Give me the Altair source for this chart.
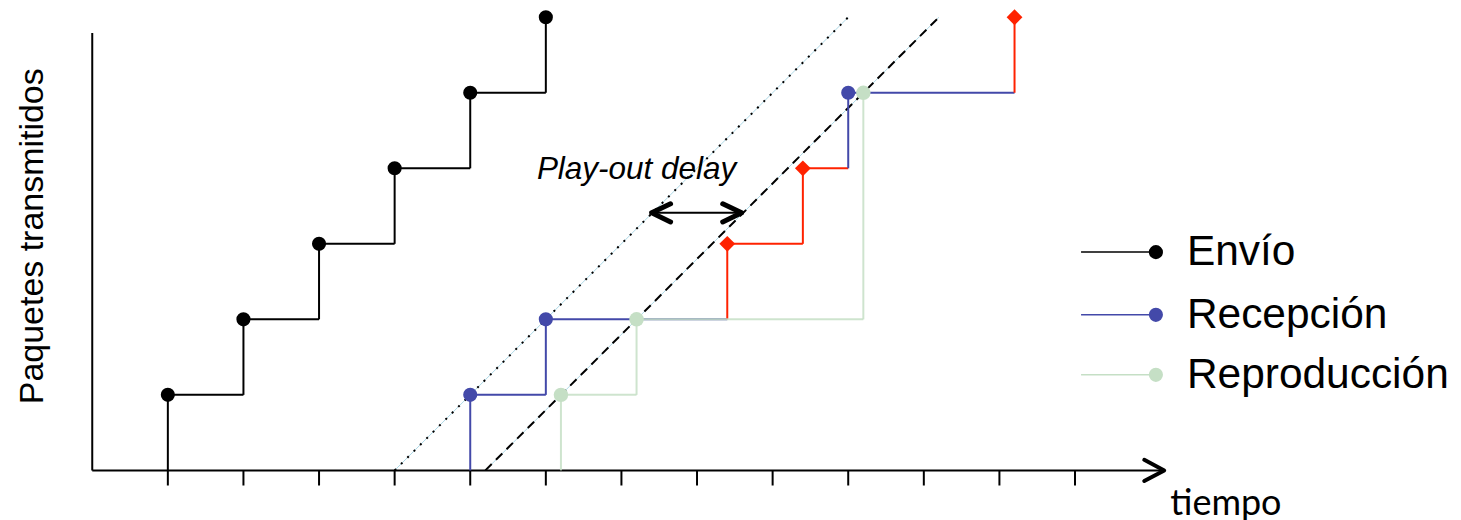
import altair as alt
import pandas as pd

# ---------------- data ----------------
levels = [1, 2, 3, 4, 5, 6]                     # packet number / height
send_t = [1, 2, 3, 4, 5, 6]                     # Envío times
recv_t = [5, 6, 8.4, 9.4, 10, 12.2]             # Recepción times
recv_late = [False, False, True, True, False, True]
play_t = [6.2, 7.2, 10.2]                       # Reproducción times
play_level = [1, 2, 5]
tick_pos = list(range(1, 14))
dotted_offset = 4.0                             # diagonal x = y + offset
dashed_offset = 5.2
diag_top = 6
y_axis_top = 5.79
x_axis_end = 14.18
arrow_y = 3.41
arrow_x = [7.40, 8.59]
legend_labels = ["Envío", "Recepción", "Reproducción"]
legend_y = [2.89, 2.06, 1.265]

BLACK = "#000000"
BLUE = "#4349a9"
GREEN = "#c5dfc5"
RED = "#ff2200"
LIGHTBLUE = "#add8e6"

X = alt.Scale(domain=[0, 18], nice=False, zero=False)
Y = alt.Scale(domain=[0, 6], nice=False, zero=False)


def steps(times, lv, colors):
    segs = []
    prev = 0
    for i, (t, l, c) in enumerate(zip(times, lv, colors)):
        segs.append(dict(x=t, x2=t, y=prev, y2=l, color=c))
        if i + 1 < len(times):
            segs.append(dict(x=t, x2=times[i + 1], y=l, y2=l, color=c))
        prev = l
    return pd.DataFrame(segs)


def rules(df, **mk):
    return alt.Chart(df).mark_rule(**mk).encode(
        x=alt.X("x:Q", scale=X, axis=None),
        x2="x2:Q",
        y=alt.Y("y:Q", scale=Y, axis=None),
        y2="y2:Q",
        color=alt.Color("color:N", scale=None),
    )


def points(df, shape, size):
    return alt.Chart(df).mark_point(shape=shape, filled=True, size=size, opacity=1).encode(
        x=alt.X("x:Q", scale=X, axis=None),
        y=alt.Y("y:Q", scale=Y, axis=None),
        color=alt.Color("color:N", scale=None),
    )


def chevrons(tips, direction, dx, dy, width):
    rows = []
    for k, (tx, ty) in enumerate(tips):
        d = direction[k]
        rows += [
            dict(g=k, o=0, x=tx - d * dx, y=ty + dy),
            dict(g=k, o=1, x=tx, y=ty),
            dict(g=k, o=2, x=tx - d * dx, y=ty - dy),
        ]
    return alt.Chart(pd.DataFrame(rows)).mark_line(
        color=BLACK, strokeWidth=width, strokeCap="round", strokeJoin="round"
    ).encode(
        x=alt.X("x:Q", scale=X, axis=None),
        y=alt.Y("y:Q", scale=Y, axis=None),
        detail="g:N",
        order="o:Q",
    )


recv_colors = [RED if late else BLUE for late in recv_late]

envio_df = steps(send_t, levels, [BLACK] * 6)
recv_df = steps(recv_t, levels, recv_colors)
play_df = steps(play_t, play_level, [GREEN] * 3)

diag_df = pd.DataFrame([
    dict(x=dotted_offset, x2=dotted_offset + diag_top, y=0, y2=diag_top, color=BLACK, kind="dot"),
    dict(x=dashed_offset, x2=dashed_offset + diag_top, y=0, y2=diag_top, color=BLACK, kind="dash"),
])
diag_light = diag_df.assign(color=LIGHTBLUE)

axes_df = pd.DataFrame([
    dict(x=0, x2=x_axis_end, y=0, y2=0, color=BLACK),
    dict(x=0, x2=0, y=0, y2=y_axis_top, color=BLACK),
])
ticks_df = pd.DataFrame([dict(x=t, x2=t, y=0, y2=-0.2, color=BLACK) for t in tick_pos])
arrow_df = pd.DataFrame([dict(x=arrow_x[0], x2=arrow_x[1], y=arrow_y, y2=arrow_y, color=BLACK)])

envio_pts = pd.DataFrame(dict(x=send_t, y=levels, color=[BLACK] * 6))
recv_ok = pd.DataFrame([dict(x=t, y=l, color=BLUE) for t, l, late in zip(recv_t, levels, recv_late) if not late])
recv_bad = pd.DataFrame([dict(x=t, y=l, color=RED) for t, l, late in zip(recv_t, levels, recv_late) if late])
play_pts = pd.DataFrame(dict(x=play_t, y=play_level, color=[GREEN] * 3))

leg_colors = [BLACK, BLUE, GREEN]
leg_lines = pd.DataFrame([dict(x=13.08, x2=14.07, y=yy, y2=yy, color=c) for yy, c in zip(legend_y, leg_colors)])
leg_pts = pd.DataFrame([dict(x=14.07, y=yy, color=c) for yy, c in zip(legend_y, leg_colors)])
leg_text = pd.DataFrame(dict(x=[14.48] * 3, y=legend_y, t=legend_labels))


def text(df, **mk):
    return alt.Chart(df).mark_text(**mk).encode(
        x=alt.X("x:Q", scale=X, axis=None),
        y=alt.Y("y:Q", scale=Y, axis=None),
        text="t:N",
    )


layers = [
    rules(diag_light, strokeWidth=1),
    rules(diag_df[diag_df.kind == "dot"], strokeWidth=2, strokeDash=[2, 7]),
    rules(diag_df[diag_df.kind == "dash"], strokeWidth=2, strokeDash=[9, 6]),
    rules(axes_df, strokeWidth=2),
    rules(ticks_df, strokeWidth=2),
    chevrons([(x_axis_end, 0)], [1], 0.264, 0.14, 4),
    rules(envio_df, strokeWidth=2),
    rules(recv_df, strokeWidth=2),
    rules(play_df, strokeWidth=2, opacity=0.85),
    points(envio_pts, "circle", 200),
    points(recv_ok, "circle", 200),
    points(recv_bad, "diamond", 250),
    points(play_pts, "circle", 210),
    rules(arrow_df, strokeWidth=2),
    chevrons([(arrow_x[0], arrow_y), (arrow_x[1], arrow_y)], [-1, 1], 0.25, 0.12, 5),
    text(pd.DataFrame(dict(x=[7.2], y=[3.98], t=["Play-out delay"])),
         font="Liberation Sans", fontSize=31.5, fontStyle="italic", align="center", baseline="middle"),
    text(pd.DataFrame(dict(x=[-0.784], y=[3.10], t=["Paquetes transmitidos"])),
         font="Liberation Sans", fontSize=34, angle=270, align="center", baseline="middle"),
    text(pd.DataFrame(dict(x=[14.26], y=[-0.45], t=["tiempo"])),
         font="Lato", fontSize=36, align="left", baseline="middle"),
    rules(leg_lines, strokeWidth=1.5),
    points(leg_pts, "circle", 200),
    text(leg_text, font="Liberation Sans", fontSize=42.5, align="left", baseline="middle"),
]

chart = alt.layer(*layers).properties(
    width=18 * 75.67,
    height=6 * 75.6,
    autosize=alt.AutoSizeParams(type="none"),
    padding={"left": 84.33, "top": 9, "right": 0, "bottom": 49},
).configure_view(stroke=None)

chart.save("out.html", embed_options={"renderer": "svg", "actions": False})
